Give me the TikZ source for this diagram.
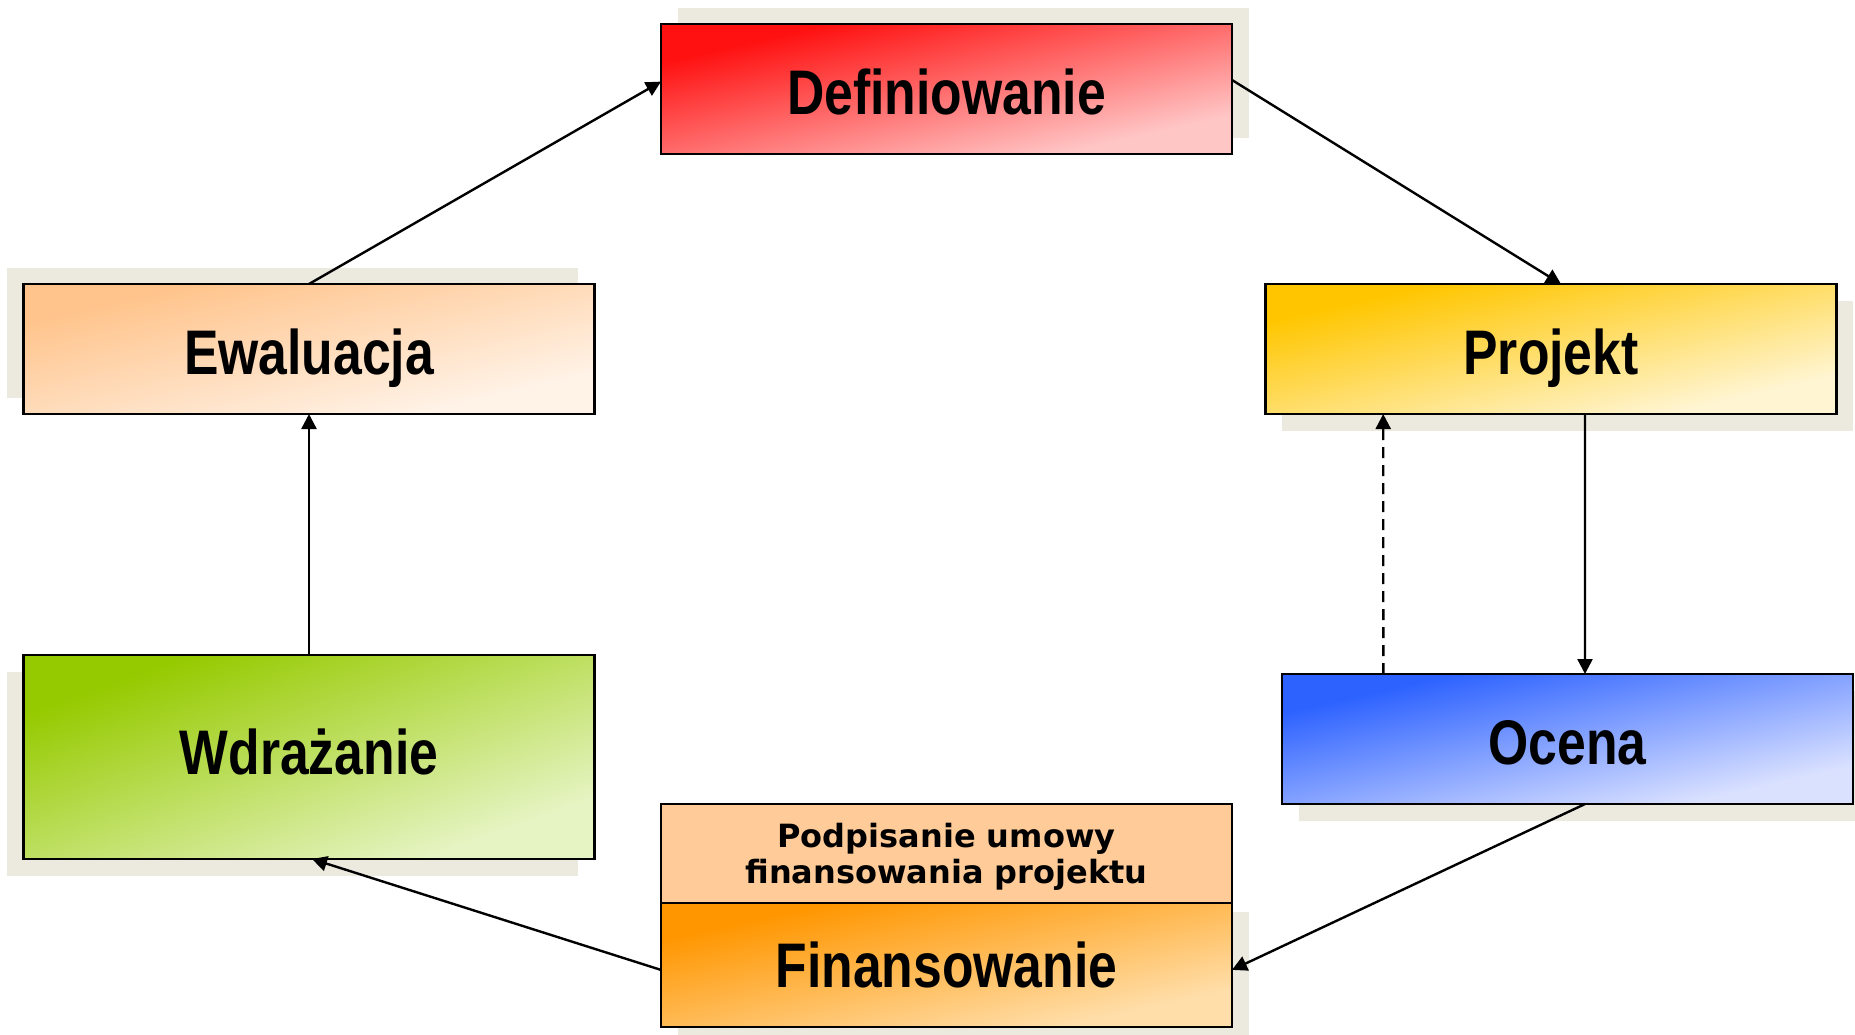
\documentclass[tikz,border=0pt]{standalone}
\usepackage{fontspec}
\setmainfont{Liberation Sans}
\newfontfamily\bigfont{Liberation Sans}[FakeStretch=0.82]
\newfontfamily\smallfont{DejaVu Sans}
\usetikzlibrary{arrows.meta,backgrounds}
\definecolor{defA}{RGB}{255,17,17}
\definecolor{defB}{RGB}{255,198,198}
\definecolor{ewaA}{RGB}{255,196,140}
\definecolor{ewaB}{RGB}{255,243,232}
\definecolor{proA}{RGB}{255,198,0}
\definecolor{proB}{RGB}{255,245,210}
\definecolor{wdrA}{RGB}{150,202,0}
\definecolor{wdrB}{RGB}{230,244,195}
\definecolor{ocA}{RGB}{45,98,255}
\definecolor{ocB}{RGB}{218,225,255}
\definecolor{finA}{RGB}{255,150,0}
\definecolor{finB}{RGB}{255,222,170}
\definecolor{podpC}{RGB}{255,204,153}
\definecolor{shadowC}{RGB}{236,233,223}
\tikzset{
  box/.style={draw=black, line width=1.2pt, rectangle, inner sep=0pt, outer sep=0pt,
    minimum width=285.5pt, minimum height=65pt,
    font=\bigfont\bfseries\fontsize{31.5}{36}\selectfont,
    text height=25pt, text depth=0pt},
  arr/.style={line width=1.2pt, -{Triangle[length=7.5pt,width=7.5pt]}},
  shadowbox/.style={fill=shadowC, draw=none}
}
% diagonal corner-to-corner gradient: node, colour A, colour B, width/height ratio, half height
\newcommand\diaggrad[5]{%
  \begin{scope}[transform canvas={shift={(#1.center)}, xscale=#4}]
    \shade[top color=#2, bottom color=#3, shading angle=45] (-#5,-#5) rectangle (#5,#5);
  \end{scope}}
\begin{document}
\begin{tikzpicture}[x=0.5pt,y=-0.5pt]
\useasboundingbox (0,0) rectangle (1855,1034);
% nodes
\node[box] (def) at (946.5,89) {Definiowanie};
\node[box] (ewa) at (309,349) {Ewaluacja};
\node[box] (proj) at (1551,349) {Projekt};
\node[box, minimum height=102pt, text height=17.5pt] (wdr) at (309,757) {Wdrażanie};
\node[box] (oc) at (1567.7,739) {Ocena};
\node[box, minimum height=62pt, text height=22.5pt] (fin) at (946.5,964.7) {Finansowanie};
\node[box, fill=podpC, minimum height=49.3pt, text height=, text depth=,
  font=\smallfont\bfseries\fontsize{16}{18}\selectfont,
  anchor=south] (podp) at (fin.north)
  {\raisebox{-2.5pt}[\height][\depth]{\begin{tabular}{@{}c@{}}Podpisanie umowy\\finansowania projektu\end{tabular}}};
% shadows and fills
\begin{scope}[on background layer]
\fill[shadowbox] ([shift={(8.25pt,8.25pt)}]def.south west) rectangle ([shift={(8.25pt,8.25pt)}]def.north east);
\fill[shadowbox] ([shift={(-8.25pt,8.25pt)}]ewa.south west) rectangle ([shift={(-8.25pt,8.25pt)}]ewa.north east);
\fill[shadowbox] ([shift={(8.25pt,-8.25pt)}]proj.south west) rectangle ([shift={(8.25pt,-8.25pt)}]proj.north east);
\fill[shadowbox] ([shift={(-8.25pt,-8.25pt)}]wdr.south west) rectangle ([shift={(-8.25pt,-8.25pt)}]wdr.north east);
\fill[shadowbox] ([shift={(8.25pt,-8.25pt)}]oc.south west) rectangle ([shift={(8.25pt,-8.25pt)}]oc.north east);
\fill[shadowbox] ([shift={(8.25pt,-4.6pt)}]fin.south west) rectangle ([shift={(8.25pt,-4.6pt)}]fin.north east);
\diaggrad{def}{defA}{defB}{4.3923}{32.5pt}
\diaggrad{ewa}{ewaA}{ewaB}{4.3923}{32.5pt}
\diaggrad{proj}{proA}{proB}{4.3923}{32.5pt}
\diaggrad{wdr}{wdrA}{wdrB}{2.7990}{51pt}
\diaggrad{oc}{ocA}{ocB}{4.3923}{32.5pt}
\diaggrad{fin}{finA}{finB}{4.6048}{31pt}
\end{scope}
% connectors
\draw[arr] (ewa.north) -- ([yshift=3.7pt]def.west);
\draw[arr] ([yshift=4.5pt]def.east) -- ([xshift=5pt]proj.north);
\draw[arr] ([xshift=17pt]proj.south) -- ([xshift=8.65pt]oc.north);
\draw[arr, dash pattern=on 5.5pt off 3.5pt] ([xshift=-92.2pt]oc.north) -- ([xshift=-83.9pt]proj.south);
\draw[arr] ([xshift=8.65pt]oc.south) -- ([yshift=-2.6pt]fin.east);
\draw[arr] ([yshift=-2.6pt]fin.west) -- ([xshift=1.5pt]wdr.south);
\draw[arr] (wdr.north) -- (ewa.south);
\end{tikzpicture}
\end{document}
